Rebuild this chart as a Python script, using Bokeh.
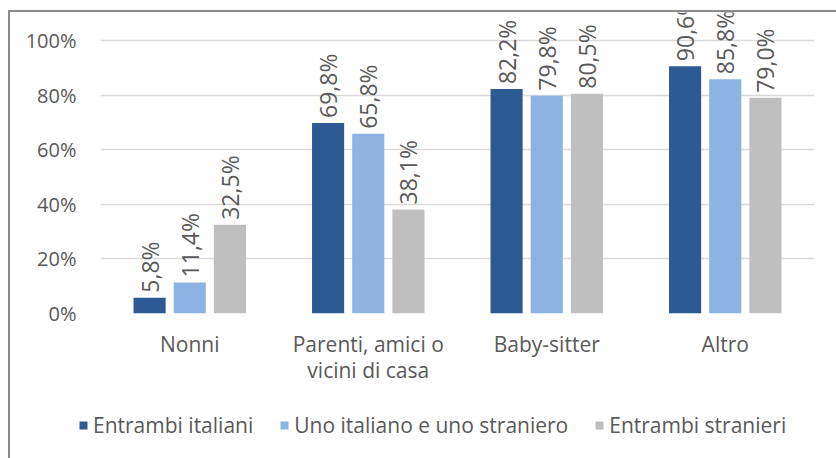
from bokeh.plotting import figure
from bokeh.models import ColumnDataSource, FactorRange, Range1d, FixedTicker, Legend, LegendItem, Spacer
from bokeh.layouts import column, row
from bokeh.transform import dodge
from bokeh.core.properties import value
from bokeh.embed import file_html
from bokeh.resources import INLINE
import math

categories = ["Nonni", "Parenti, amici o\nvicini di casa", "Baby-sitter", "Altro"]
series_names = ["Entrambi italiani", "Uno italiano e uno straniero", "Entrambi stranieri"]
entrambi_italiani = [5.8, 69.8, 82.2, 90.6]
uno_italiano = [11.4, 65.8, 79.8, 85.8]
entrambi_stranieri = [32.5, 38.1, 80.5, 79.0]
y_ticks = [0, 20, 40, 60, 80, 100]
y_tick_labels = ["0%", "20%", "40%", "60%", "80%", "100%"]

colors = ["#2E5A94", "#8DB3E2", "#BFBFBF"]
offsets = [-0.225, 0.0, 0.225]
series = [entrambi_italiani, uno_italiano, entrambi_stranieri]

FONT = "Open Sans"
GRAY = "#595959"
BORDER = "#8a8a8a"

p = figure(x_range=FactorRange(*categories), y_range=Range1d(0, 110.26),
           width=826, height=380, output_backend="svg", toolbar_location=None,
           min_border_left=90, min_border_right=22, min_border_top=0, min_border_bottom=79)
p.frame_align = False
p.outline_line_color = None
p.background_fill_color = "white"
p.border_fill_color = "white"

for name, vals, col, off in zip(series_names, series, colors, offsets):
    src = ColumnDataSource(dict(
        x=categories, y=vals,
        lab=[("%.1f" % v).replace(".", ",") + "%" for v in vals]))
    p.vbar(x=dodge("x", off, range=p.x_range), top="y", width=0.18, source=src,
           fill_color=col, line_color=None)
    p.text(x=dodge("x", off, range=p.x_range), y="y", text="lab", source=src,
           angle=math.pi / 2, text_align="left", text_baseline="middle",
           y_offset=-5, text_font=value(FONT), text_font_size="23px", text_color=GRAY)

p.yaxis.ticker = FixedTicker(ticks=y_ticks)
p.yaxis.major_label_overrides = {t: l for t, l in zip(y_ticks, y_tick_labels)}
p.yaxis.axis_line_color = None
p.yaxis.major_tick_line_color = None
p.yaxis.minor_tick_line_color = None
p.yaxis.major_label_standoff = 18
p.yaxis.major_label_text_font = FONT
p.yaxis.major_label_text_font_size = "20px"
p.yaxis.major_label_text_color = GRAY

p.xaxis.axis_line_color = None
p.xaxis.major_tick_line_color = None
p.xaxis.major_label_standoff = 10
p.xaxis.major_label_text_font = FONT
p.xaxis.major_label_text_font_size = "21px"
p.xaxis.major_label_text_line_height = 0.95
p.xaxis.major_label_text_color = GRAY
p.xgrid.grid_line_color = None
p.ygrid.grid_line_color = "#D9D9D9"
p.ygrid.grid_line_width = 1.5
p.ygrid.ticker = FixedTicker(ticks=y_ticks)

# legend strip (its bars fall outside its visible range; only the legend shows)
lg = figure(width=826, height=66, output_backend="svg", toolbar_location=None,
            x_range=FactorRange(*categories), y_range=Range1d(1000, 1001),
            x_axis_location=None, y_axis_location=None,
            min_border_left=0, min_border_right=0, min_border_top=0, min_border_bottom=0)
lg.frame_align = False
lg.outline_line_color = None
lg.grid.grid_line_color = None
items = []
for name, vals, col in zip(series_names, series, colors):
    r = lg.vbar(x=categories, top=vals, width=0.5, fill_color=col, line_color=None)
    items.append(LegendItem(label=name, renderers=[r]))
legend = Legend(items=items, orientation="horizontal", location=(68, 19),
                label_text_font=FONT, label_text_font_size="21px", label_text_color=GRAY,
                glyph_width=10, glyph_height=10, label_standoff=5, spacing=26,
                border_line_color=None, background_fill_alpha=0, padding=4)
lg.add_layout(legend)

top_line = Spacer(width=828, height=2, styles={"background-color": BORDER})
left_line = Spacer(width=2, height=446, styles={"background-color": BORDER})
layout = column(
    Spacer(width=836, height=10),
    row(Spacer(width=8, height=448),
        column(top_line, row(left_line, column(p, lg, spacing=0), spacing=0), spacing=0),
        spacing=0),
    spacing=0)

open("out.html", "w").write(file_html(layout, INLINE))
